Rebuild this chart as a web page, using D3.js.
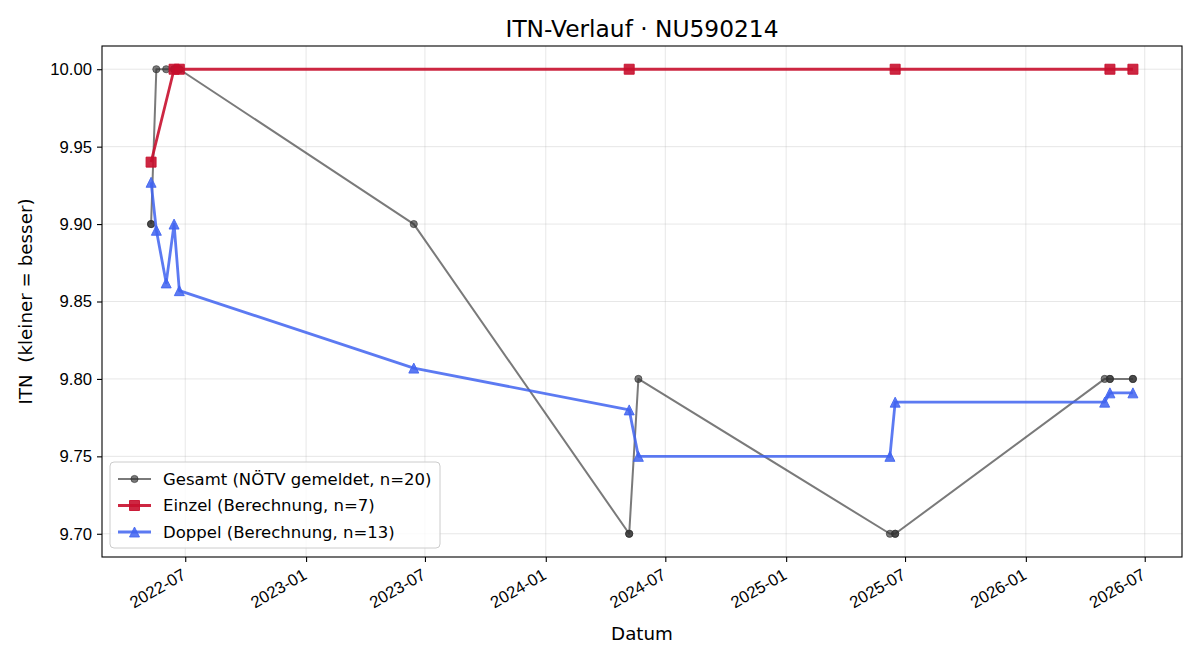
<!DOCTYPE html>
<html>
<head>
<meta charset="utf-8">
<script src="https://cdn.jsdelivr.net/npm/d3@7"></script>
<style>
  body { margin: 0; background: #fff; }
  svg { font-family: "DejaVu Sans", sans-serif; }
</style>
</head>
<body>
<div id="chart"></div>
<script>
// Gesamt (NÖTV gemeldet)
const gesamtDates = ["2022-05-10", "2022-05-10", "2022-05-18", "2022-06-02", "2022-06-14", "2022-06-14",
  "2022-06-22", "2022-06-22", "2023-06-14", "2024-05-07", "2024-05-07", "2024-05-21", "2025-06-08",
  "2025-06-16", "2025-06-16", "2026-05-01", "2026-05-09", "2026-05-09", "2026-06-13", "2026-06-13"];
const gesamtValues = [9.90, 9.90, 10.00, 10.00, 10.00, 10.00, 10.00, 10.00, 9.90, 9.70, 9.70, 9.80, 9.70,
  9.70, 9.70, 9.80, 9.80, 9.80, 9.80, 9.80];

// Einzel (Berechnung)
const einzelDates = ["2022-05-10", "2022-06-14", "2022-06-22", "2024-05-07", "2025-06-16", "2026-05-09", "2026-06-13"];
const einzelValues = [9.94, 10.00, 10.00, 10.00, 10.00, 10.00, 10.00];

// Doppel (Berechnung)
const doppelDates = ["2022-05-10", "2022-05-18", "2022-06-02", "2022-06-14", "2022-06-22", "2023-06-14",
  "2024-05-07", "2024-05-21", "2025-06-08", "2025-06-16", "2026-05-01", "2026-05-09", "2026-06-13"];
const doppelValues = [9.927, 9.896, 9.862, 9.900, 9.857, 9.807, 9.780, 9.750, 9.750, 9.785, 9.785, 9.791, 9.791];

const yTicks = [9.70, 9.75, 9.80, 9.85, 9.90, 9.95, 10.00];
const legendLabels = ["Gesamt (NÖTV gemeldet, n=20)", "Einzel (Berechnung, n=7)", "Doppel (Berechnung, n=13)"];

const margin = { top: 46, right: 18, bottom: 103, left: 102 },
      width = 1200 - margin.left - margin.right,
      height = 660 - margin.top - margin.bottom;

const parse = d3.timeParse("%Y-%m-%d");
const toPoints = (dates, values) => dates.map((d, i) => ({ date: parse(d), value: values[i] }));

const series = [
  { name: legendLabels[0], data: toPoints(gesamtDates, gesamtValues), color: "#333", opacity: 0.65, lw: 2, marker: "circle", size: 3.6 },
  { name: legendLabels[1], data: toPoints(einzelDates, einzelValues), color: "#c8102e", opacity: 0.9, lw: 2.8, marker: "square", size: 5 },
  { name: legendLabels[2], data: toPoints(doppelDates, doppelValues), color: "#3f63f0", opacity: 0.85, lw: 2.8, marker: "triangle", size: 5 }
];

const svg = d3.select("#chart")
  .append("svg")
  .attr("width", 1200)
  .attr("height", 660);

const g = svg.append("g")
  .attr("transform", `translate(${margin.left},${margin.top})`);

// matplotlib-style 5% margins
const allDates = series.flatMap(s => s.data.map(d => +d.date));
const [dMin, dMax] = d3.extent(allDates);
const dPad = (dMax - dMin) * 0.05;
const x = d3.scaleTime().domain([new Date(dMin - dPad), new Date(dMax + dPad)]).range([0, width]);

const allValues = series.flatMap(s => s.data.map(d => d.value));
const [vMin, vMax] = d3.extent(allValues);
const vPad = (vMax - vMin) * 0.05;
const y = d3.scaleLinear().domain([vMin - vPad, vMax + vPad]).range([height, 0]);

const xTicks = x.ticks(d3.timeMonth.every(6));

// Grid
g.append("g").selectAll("line")
  .data(xTicks)
  .join("line")
  .attr("x1", d => x(d)).attr("x2", d => x(d))
  .attr("y1", 0).attr("y2", height)
  .attr("stroke", "#b0b0b0").attr("stroke-opacity", 0.3).attr("stroke-width", 1);

g.append("g").selectAll("line")
  .data(yTicks)
  .join("line")
  .attr("x1", 0).attr("x2", width)
  .attr("y1", d => y(d)).attr("y2", d => y(d))
  .attr("stroke", "#b0b0b0").attr("stroke-opacity", 0.3).attr("stroke-width", 1);

// Axes
const xAxis = g.append("g")
  .attr("transform", `translate(0,${height})`)
  .call(d3.axisBottom(x).tickValues(xTicks).tickFormat(d3.timeFormat("%Y-%m")).tickSizeInner(5).tickSizeOuter(0).tickPadding(5));
xAxis.select(".domain").remove();
xAxis.selectAll(".tick line").attr("stroke", "#000").attr("stroke-width", 1.1);
xAxis.selectAll(".tick text")
  .attr("font-size", 16.7)
  .attr("fill", "#000")
  .attr("text-anchor", "end")
  .attr("dy", "0.76em")
  .attr("y", 0)
  .attr("transform", "translate(-5,10) rotate(-30)");

const yAxis = g.append("g")
  .call(d3.axisLeft(y).tickValues(yTicks).tickFormat(d3.format(".2f")).tickSizeInner(5).tickSizeOuter(0).tickPadding(5));
yAxis.select(".domain").remove();
yAxis.selectAll(".tick line").attr("stroke", "#000").attr("stroke-width", 1.1);
yAxis.selectAll(".tick text").attr("font-size", 16.7).attr("fill", "#000");

// Lines and markers
const line = d3.line()
  .x(d => x(d.date))
  .y(d => y(d.value));

function markerPath(type, s) {
  if (type === "square") return `M${-s},${-s}H${s}V${s}H${-s}Z`;
  if (type === "triangle") return `M0,${-s}L${s},${s}L${-s},${s}Z`;
  return d3.symbol(d3.symbolCircle, Math.PI * s * s)();
}

series.forEach(s => {
  g.append("path")
    .datum(s.data)
    .attr("fill", "none")
    .attr("stroke", s.color)
    .attr("stroke-opacity", s.opacity)
    .attr("stroke-width", s.lw)
    .attr("stroke-linejoin", "round")
    .attr("d", line);

  g.append("g").selectAll("path")
    .data(s.data)
    .join("path")
    .attr("transform", d => `translate(${x(d.date)},${y(d.value)})`)
    .attr("d", markerPath(s.marker, s.size))
    .attr("fill", s.color)
    .attr("fill-opacity", s.opacity)
    .attr("stroke", s.color)
    .attr("stroke-opacity", s.opacity)
    .attr("stroke-width", 1);
});

// Frame
g.append("rect")
  .attr("width", width).attr("height", height)
  .attr("fill", "none").attr("stroke", "#000").attr("stroke-width", 1.1);

// Legend
const legend = g.append("g").attr("transform", `translate(8,${height - 95})`);
legend.append("rect")
  .attr("width", 330).attr("height", 86)
  .attr("rx", 4)
  .attr("fill", "#fff").attr("fill-opacity", 0.8)
  .attr("stroke", "#cccccc").attr("stroke-width", 1);

series.forEach((s, i) => {
  const ly = 17 + i * 26.5;
  const row = legend.append("g").attr("transform", `translate(0,${ly})`);
  row.append("line")
    .attr("x1", 8).attr("x2", 41)
    .attr("stroke", s.color).attr("stroke-opacity", s.opacity).attr("stroke-width", s.lw);
  row.append("path")
    .attr("transform", "translate(24.5,0)")
    .attr("d", markerPath(s.marker, s.size))
    .attr("fill", s.color).attr("fill-opacity", s.opacity)
    .attr("stroke", s.color).attr("stroke-opacity", s.opacity);
  row.append("text")
    .attr("x", 53)
    .attr("dy", "0.35em")
    .attr("font-size", 16.5)
    .text(s.name);
});

// Title and axis labels
svg.append("text")
  .attr("x", margin.left + width / 2)
  .attr("y", 37)
  .attr("text-anchor", "middle")
  .attr("font-size", 23.3)
  .text("ITN-Verlauf · NU590214");

svg.append("text")
  .attr("x", margin.left + width / 2)
  .attr("y", 640)
  .attr("text-anchor", "middle")
  .attr("font-size", 18.3)
  .text("Datum");

svg.append("text")
  .attr("transform", `translate(32,${margin.top + height / 2}) rotate(-90)`)
  .attr("text-anchor", "middle")
  .attr("font-size", 18.3)
  .style("white-space", "pre")
  .text("ITN  (kleiner = besser)");
</script>
</body>
</html>
